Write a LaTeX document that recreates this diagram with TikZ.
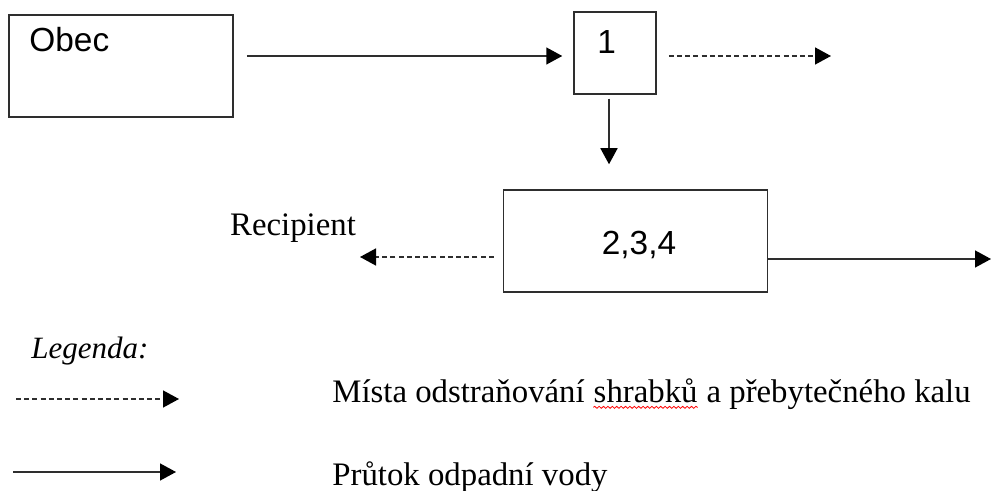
\documentclass[tikz,border=0pt]{standalone}
\usepackage{fontspec}
\setmainfont{Liberation Serif}
\newfontfamily\boxfont{Liberation Sans}
\usetikzlibrary{arrows.meta, positioning, decorations.pathmorphing}

\tikzset{
    linecol/.style={draw=black!82, line width=0.75pt},
    stage/.style={linecol, rectangle, inner sep=0pt},
    boxtext/.style={font=\boxfont\fontsize{16.7}{20}\selectfont, inner sep=0pt},
    legtext/.style={font=\fontsize{16.4}{20}\selectfont, inner sep=0pt},
    flow/.style={linecol, -{Triangle[length=8pt, width=8.5pt, color=black]}},
    sludge/.style={flow, dash pattern=on 2.5pt off 1.6pt},
}

\begin{document}
\begin{tikzpicture}[x=0.5pt, y=-0.5pt]
        \useasboundingbox (0,0) rectangle (991,491);

        % stages
        \node[stage, minimum width=112pt, minimum height=51pt] (obec) at (121,66) {};
        \node[boxtext, anchor=north west] (obectext) at (29,27) {Obec};
        \node[stage, minimum width=41pt, minimum height=41pt] (one) at (615,53) {};
        \node[boxtext, anchor=north west] (onetext) at (597,30) {1};
        \node[stage, minimum width=132pt, minimum height=51pt] (main) at (635.5,241) {};
        \node[boxtext] (maintext) at (639,245) {2,3,4};

        % free ends
        \coordinate (out1) at (831,56);
        \coordinate (outflow) at (991,259);
        \coordinate (recip) at (360,257);
        \node[legtext] (recipient) at (293,228) {Recipient};

        % connectors
        \draw[flow, shorten <=6.5pt, shorten >=5.5pt] ([yshift=-1.5pt]one.west -| obec.east) -- ([yshift=-1.5pt]one.west);
        \draw[sludge, shorten <=6pt] ([yshift=-1.5pt]one.east) -- (out1);
        \draw[flow, shorten <=2pt, shorten >=12.5pt] ([xshift=-3pt]one.south) -- ([xshift=-3pt]one.south |- main.north);
        \draw[flow] ([yshift=-9pt]main.east) -- (outflow);
        \draw[sludge, shorten <=4.5pt] (recip -| main.west) -- (recip);

        % legend
        \node[legtext, anchor=base west, font=\itshape\fontsize{15.5}{20}\selectfont] (legenda) at (31,359) {Legenda:};
        \coordinate (lgA) at (16,399);
        \coordinate (lgB) at (179,399);
        \coordinate (lgC) at (13,472);
        \coordinate (lgD) at (176,472);
        \draw[sludge] (lgA) -- (lgB);
        \draw[flow] (lgC) -- (lgD);
        \node[legtext, anchor=base west] (sludgeA) at (332,403) {Místa odstraňování};
        \node[legtext, anchor=base west] (sludgeB) at ([xshift=4.1pt]sludgeA.base east) {shrabků};
        \node[legtext, anchor=base west] (sludgeC) at ([xshift=4.1pt]sludgeB.base east) {a přebytečného kalu};
        \node[legtext, anchor=base west] (flowtext) at (332,486) {Průtok odpadní vody};
        \draw[red, line width=0.4pt, decorate, decoration={snake, amplitude=0.5pt, segment length=2.2pt}]
            ([yshift=-1.8pt]sludgeB.south west) -- ([yshift=-1.8pt]sludgeB.south east);
    \end{tikzpicture}
\end{document}
